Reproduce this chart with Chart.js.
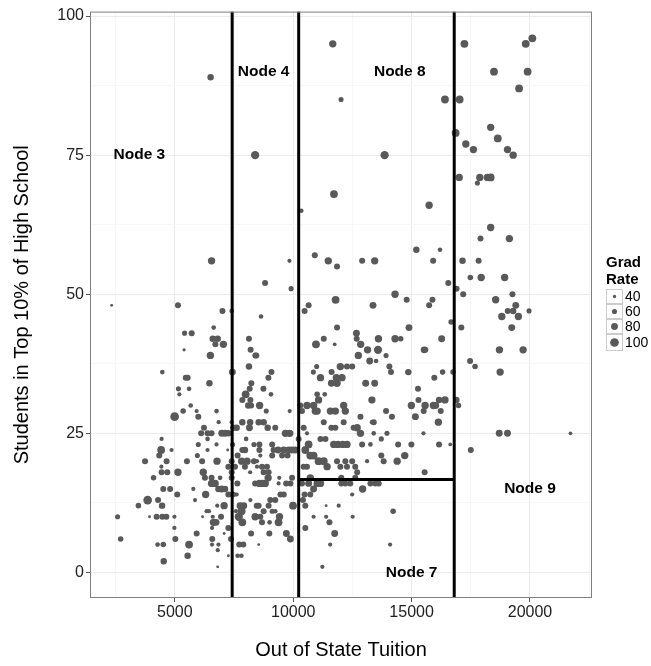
<!DOCTYPE html>
<html>
<head>
<meta charset="utf-8">
<script src="https://cdn.jsdelivr.net/npm/chart.js@4.4.0/dist/chart.umd.min.js"></script>
<style>
  body { margin: 0; background: #fff; }
</style>
</head>
<body>
<canvas id="treeChart" width="651" height="666"></canvas>
<script>
// Out-of-state tuition vs share of students from top 10% of their high school,
// one entry per college; gradRate sets the point size.
const tuition = [
  // upper band
  6510, 8390, 11670, 12020, 13860, 11720, 17230, 19820, 20100, 18480,
  19900, 19540, 16410, 17030, 16860, 17290, 17610, 18340, 18640, 19050,
  19290, 17010, 17780, 17880, 18200, 18340, 15740,
  // node 3/4, 30-56
  6550, 2330, 5130, 7010, 7400, 6640, 5410, 5710, 6600, 6810,
  6710, 7050, 8130, 5390, 6500, 8200, 8400, 8130, 4470, 7430,
  5460, 5540, 6460, 5150, 5600, 5190, 8230, 8160, 7990, 8190,
  // node 8, 30-65
  10340, 9840, 10910, 11480, 11850, 12910, 13440, 15200, 8810, 9910,
  11790, 10650, 10480, 13370, 14300, 14790, 8640, 11850, 12670, 12680,
  11290, 10960, 11750, 12850, 13140, 13600, 13580, 13920, 14300, 14540,
  14890, 8440, 12750, 13230, 13500, 15530, 9080, 8950, 8740, 9060,
  10990, 10850, 11150, 11620, 11990, 12270, 12490, 11820, 12060, 11610,
  11850, 13060, 13440, 14060, 14130, 14860, 11010, 11330, 13310, 15270,
  15290,
  // node 9, 31-62
  18340, 17910, 19130, 16200, 15910, 17150, 17830, 17480, 17940, 18930,
  16550, 16900, 17180, 15880, 15740, 18550, 19260, 19400, 19060, 19290,
  19960, 18810, 19510, 19230, 16670, 17100, 16270, 15580, 18710, 19710,
  17470, 17680, 18740, 16750, 16310, 15960, 16160, 16410, 16890,
  // node 9, below 31
  15570, 15920, 16020, 16980, 16230, 16130, 15500, 16160, 16630, 18700,
  19050, 21710, 17500, 15550,
  // node 3/4, below 31
  5670, 5350, 4990, 5920, 5990, 6760, 6850, 6230, 6110, 6380,
  6550, 6980, 7120, 7260, 7470, 7610, 7400, 7850, 8180, 8150,
  7850, 8100, 8220, 4440, 6380, 4420, 4340, 4860, 3740, 4650,
  4430, 4440, 4680, 5130, 4100, 4510, 4800, 5100, 3460, 3850,
  4290, 4460, 2580, 3930, 4230, 4470, 4640, 4980, 4980, 2710,
  4270, 4510, 5020, 5600, 5540, 4530, 6810, 5510, 5990, 6380,
  6760, 7230, 7440, 5950, 6150, 6780, 7260, 6200, 5780, 6270,
  6550, 6910, 6550, 6700, 6840, 6980, 7120, 7400, 7400, 7260,
  7440, 7610, 6300, 5850, 6790, 7080, 6340, 6440, 6170, 6600,
  6950, 6630, 6740, 6570, 5920, 7080, 7260, 6580, 7370, 6570,
  6840, 6810, 7260, 7810, 7650, 7700, 7820, 7850, 8390, 7720,
  7890, 8220, 7560, 7750, 7910, 7580, 8190, 8460, 8390, 7640,
  7960, 7820, 8050, 8340, 7650, 7960, 7850, 8470, 7540, 8010,
  8340, 8180, 7400,
  // around the 10230 split, below 31
  8580, 8860, 9850, 8540, 8750, 8920, 9240, 9670, 9850, 8570,
  8570, 9110, 9170, 9360, 9600, 9810, 9950, 10090, 8610, 9110,
  9530, 9760, 8470, 8680, 8890, 8960, 8750, 8940, 8820, 8700,
  8570, 9410, 9380, 9700, 9880, 9950, 9460, 9600, 9240, 9030,
  8960, 8540, 8750, 8610, 8680, 9000, 9240, 9110, 9380, 9420,
  8990, 8540, 9710, 9880, 9990, 10510, 10410, 10480, 10720, 10860,
  10650, 10370, 10510, 10860, 11390, 11390, 11530, 11750, 11560, 11920,
  12510, 12490, 12930, 14220, 14090, 11230, 10720, 11010, 11150, 12030,
  12030, 12200, 12410, 12620, 13260, 13470, 13610, 10580, 10860, 10930,
  11070, 11010, 10370, 10300, 11570, 11780, 12130, 12200, 12840, 13330,
  13400, 13920, 14170, 14990, 15160, 15510, 11290, 11610, 11780, 12130,
  12550, 12700, 12840, 13330, 13400, 13720, 13960, 11150, 11360, 11710,
  11890, 12090, 12270, 12910, 13260, 14430, 14990, 10650, 10510, 10720,
  10860, 11070, 11290, 11430, 10440, 10580, 11850, 12200, 12490, 12620,
  11990, 12270, 12700, 13120, 13720, 13820, 14390, 14710, 10580, 10230,
  10440
];

const top10 = [
  89, 75, 95, 85, 75, 68, 95, 95, 96, 90,
  90, 87, 85, 85, 79, 77, 76, 80, 78, 76,
  75, 71, 70, 71, 71, 71, 66,

  56, 48, 48, 47, 47, 44, 43, 43, 42, 42,
  41, 41, 42, 40, 39, 40, 39, 37, 36, 36,
  35, 35, 34, 33, 33, 32, 34, 33, 32, 31,

  65, 56, 57, 56, 55, 56, 56, 58, 52, 51,
  49, 48, 47, 48, 50, 49, 46, 44, 43, 42,
  42, 41, 41, 41, 40, 42, 40, 39, 42, 42,
  44, 39, 39, 38, 38, 40, 36, 35, 33, 32,
  37, 36, 35, 36, 37, 37, 37, 35, 35, 34,
  34, 34, 34, 37, 36, 36, 32, 32, 31, 33,
  31,

  62, 60, 60, 58, 56, 56, 56, 53, 53, 53,
  52, 51, 50, 49, 48, 49, 50, 48, 47, 47,
  47, 46, 46, 44, 45, 44, 42, 40, 40, 40,
  38, 37, 36, 36, 36, 35, 31, 31, 31,

  30, 30, 30, 30, 29, 27, 25, 23, 23, 25,
  25, 25, 22, 18,

  30, 29, 28, 29, 28, 29, 27, 26, 25, 25,
  25, 25, 25, 25, 26, 26, 27, 27, 27, 26,
  31, 30, 30, 24, 24, 22, 21, 22, 20, 20,
  19, 18, 18, 18, 17, 15, 15, 14, 12, 13,
  13, 12, 10, 10, 10, 10, 10, 10, 8, 6,
  5, 5, 6, 5, 3, 2, 1, 20, 23, 22,
  23, 22, 23, 21, 20, 20, 19, 18, 15, 17,
  17, 17, 16, 16, 15, 15, 15, 17, 18, 14,
  14, 14, 14, 13, 12, 12, 11, 11, 10, 10,
  10, 9, 9, 8, 7, 7, 8, 6, 6, 5,
  5, 4, 3, 3, 3, 10, 11, 9, 10, 5,
  5, 7, 14, 12, 12, 11, 13, 12, 16, 16,
  19, 20, 20, 20, 21, 22, 22, 19, 19, 24,
  23, 18, 20,

  30, 29, 29, 27, 27, 26, 26, 25, 25, 23,
  22, 23, 22, 22, 22, 22, 22, 22, 21, 21,
  21, 21, 20, 19, 19, 18, 18, 17, 16, 16,
  16, 17, 16, 16, 16, 17, 14, 14, 13, 13,
  12, 12, 11, 10, 9, 9, 11, 11, 9, 10,
  7, 5, 7, 6, 12, 12, 13, 14, 14, 15,
  16, 16, 8, 10, 12, 10, 9, 7, 5, 12,
  10, 14, 15, 11, 5, 1, 17, 16, 16, 17,
  16, 16, 16, 17, 16, 16, 16, 30, 30, 29,
  31, 29, 29, 30, 29, 29, 30, 29, 28, 31,
  27, 29, 28, 30, 28, 29, 27, 26, 26, 27,
  26, 26, 25, 27, 25, 24, 25, 24, 24, 23,
  23, 23, 23, 23, 23, 23, 23, 23, 22, 21,
  21, 20, 20, 19, 19, 19, 20, 20, 20, 19,
  19, 19, 18, 20, 21, 20, 20, 21, 25, 24,
  26
];

const gradRate = [
  75, 95, 85, 60, 95, 90, 90, 90, 90, 90,
  90, 90, 90, 90, 90, 85, 85, 85, 90, 85,
  85, 85, 60, 85, 85, 90, 85,

  85, 35, 70, 70, 55, 55, 60, 70, 75, 75,
  70, 85, 70, 40, 85, 70, 70, 75, 55, 80,
  70, 70, 75, 60, 55, 50, 70, 70, 90, 70,

  55, 50, 70, 85, 70, 70, 85, 75, 70, 60,
  90, 70, 70, 80, 85, 70, 55, 70, 80, 70,
  70, 90, 45, 85, 85, 85, 95, 60, 85, 65,
  80, 70, 85, 80, 55, 80, 70, 70, 70, 55,
  60, 60, 85, 70, 85, 70, 70, 85, 85, 80,
  85, 80, 80, 70, 70, 75, 65, 55, 75, 70,
  70,

  85, 70, 85, 55, 70, 75, 70, 65, 85, 85,
  70, 70, 70, 70, 70, 85, 70, 80, 70, 75,
  60, 85, 85, 80, 65, 70, 80, 70, 85, 85,
  70, 65, 85, 65, 65, 70, 75, 85, 75,

  85, 85, 80, 65, 70, 85, 50, 70, 45, 80,
  80, 45, 70, 70,

  55, 65, 100, 50, 70, 55, 50, 70, 70, 70,
  70, 80, 80, 75, 75, 75, 50, 75, 75, 80,
  70, 75, 70, 50, 55, 90, 70, 50, 70, 70,
  50, 70, 70, 85, 65, 70, 70, 70, 65, 100,
  70, 75, 60, 35, 70, 70, 70, 50, 50, 65,
  55, 65, 70, 90, 75, 75, 35, 70, 60, 50,
  50, 35, 60, 60, 70, 85, 70, 85, 50, 70,
  70, 55, 85, 85, 75, 80, 75, 70, 70, 70,
  70, 50, 85, 50, 50, 85, 50, 50, 35, 50,
  70, 85, 80, 50, 70, 35, 70, 70, 70, 50,
  50, 50, 35, 55, 55, 95, 90, 90, 85, 70,
  70, 70, 50, 80, 80, 50, 50, 70, 70, 70,
  70, 85, 85, 70, 70, 75, 70, 50, 70, 55,
  60, 50, 70,

  85, 60, 50, 75, 75, 75, 70, 85, 85, 70,
  70, 70, 70, 80, 80, 80, 80, 80, 50, 70,
  70, 70, 50, 70, 70, 70, 70, 85, 85, 85,
  85, 50, 50, 70, 70, 70, 70, 70, 70, 70,
  70, 70, 70, 70, 70, 55, 55, 60, 90, 85,
  70, 35, 80, 80, 90, 70, 70, 70, 70, 80,
  80, 70, 70, 50, 35, 50, 70, 80, 50, 50,
  50, 50, 85, 65, 50, 50, 85, 85, 85, 70,
  70, 70, 70, 70, 70, 70, 70, 85, 85, 85,
  85, 85, 70, 70, 85, 85, 85, 85, 70, 80,
  70, 70, 70, 85, 80, 70, 70, 70, 70, 70,
  70, 85, 85, 55, 55, 60, 60, 70, 70, 85,
  85, 85, 85, 70, 55, 70, 70, 90, 90, 90,
  90, 90, 90, 85, 70, 70, 70, 70, 70, 70,
  70, 70, 70, 50, 70, 70, 85, 85, 50, 70,
  70
];

const xTickLabels = [5000, 10000, 15000, 20000];
const yTickLabels = [0, 25, 50, 75, 100];
const legendRates = [40, 60, 80, 100];

// tree splits
const tuitionSplits = [7420, 10230, 16800];
const top10Split = 16.7;

const nodeNames = ['Node 3', 'Node 4', 'Node 8', 'Node 7', 'Node 9'];
const nodeTuition = [3500, 8750, 14500, 15000, 20000];
const nodeTop10 = [75, 90, 90, 0, 15];

const X_MIN = 1415, X_MAX = 22620, Y_MIN = -4.6, Y_MAX = 100.8;
const POINT_COLOR = '#595959';
const FONT = '"Liberation Sans", Arial, Helvetica, sans-serif';

const radiusFor = g => 1.2 + (g - 30) * 0.045;

const points = tuition.map((x, i) => ({ x: x, y: top10[i] }));

const cutLine = data => ({
  data: data,
  showLine: true,
  borderColor: '#000',
  borderWidth: 3,
  pointRadius: 0,
  order: 0
});

const datasets = [{
  data: points,
  pointRadius: c => radiusFor(gradRate[c.dataIndex]),
  pointBackgroundColor: POINT_COLOR,
  pointBorderWidth: 0,
  order: 1
}];
tuitionSplits.forEach(v => datasets.push(cutLine([{ x: v, y: Y_MIN }, { x: v, y: Y_MAX }])));
datasets.push(cutLine([{ x: tuitionSplits[1], y: top10Split }, { x: tuitionSplits[2], y: top10Split }]));

// panel border, node labels and the size legend
const panelDecor = {
  id: 'panelDecor',
  afterDatasetsDraw(chart) {
    const { ctx, chartArea: a, scales: { x, y } } = chart;
    ctx.save();
    ctx.strokeStyle = '#7f7f7f';
    ctx.lineWidth = 1;
    ctx.strokeRect(a.left + 0.5, a.top + 0.5, a.right - a.left - 1, a.bottom - a.top - 1);

    ctx.fillStyle = '#000';
    ctx.font = 'bold 15.5px ' + FONT;
    ctx.textAlign = 'center';
    ctx.textBaseline = 'middle';
    nodeNames.forEach((name, i) => {
      ctx.fillText(name, x.getPixelForValue(nodeTuition[i]), y.getPixelForValue(nodeTop10[i]));
    });
    ctx.restore();
  },
  afterDraw(chart) {
    const ctx = chart.ctx;
    const lx = chart.chartArea.right + 14;
    ctx.save();
    ctx.fillStyle = '#000';
    ctx.font = 'bold 15px ' + FONT;
    ctx.textAlign = 'left';
    ctx.textBaseline = 'alphabetic';
    ctx.fillText('Grad', lx, 267);
    ctx.fillText('Rate', lx, 284);

    const heights = [15, 15, 15, 17];
    let top = 289;
    legendRates.forEach((g, i) => {
      const h = heights[i];
      ctx.fillStyle = '#fff';
      ctx.fillRect(lx, top, 17, h);
      ctx.strokeStyle = '#cccccc';
      ctx.lineWidth = 1;
      ctx.strokeRect(lx + 0.5, top + 0.5, 16, h - 1);
      ctx.fillStyle = POINT_COLOR;
      ctx.beginPath();
      ctx.arc(lx + 8.5, top + h / 2, radiusFor(g), 0, Math.PI * 2);
      ctx.fill();
      ctx.fillStyle = '#000';
      ctx.font = '14px ' + FONT;
      ctx.textBaseline = 'middle';
      ctx.fillText(String(g), lx + 19, top + h / 2 + 0.5);
      top += h;
    });
    ctx.restore();
  }
};

const gridFor = (majorStep) => ({
  color: c => (c.tick && c.tick.value % majorStep === 0) ? '#ebebeb' : '#f7f7f7',
  tickColor: c => (c.tick && c.tick.value % majorStep === 0) ? '#555' : 'rgba(0,0,0,0)',
  tickLength: 4,
  lineWidth: 1
});

new Chart(document.getElementById('treeChart'), {
  type: 'scatter',
  data: { datasets: datasets },
  plugins: [panelDecor],
  options: {
    responsive: false,
    animation: false,
    devicePixelRatio: 1,
    layout: { padding: { left: 0, right: 59, top: 8, bottom: 0 } },
    plugins: { legend: { display: false }, tooltip: { enabled: false } },
    scales: {
      x: {
        type: 'linear',
        min: X_MIN,
        max: X_MAX,
        afterBuildTicks: s => {
          const t = [];
          for (let v = 2500; v <= 22500; v += 2500) t.push({ value: v });
          s.ticks = t;
        },
        afterFit: s => { s.height = 68; },
        grid: gridFor(5000),
        border: { display: false },
        ticks: {
          autoSkip: false,
          maxRotation: 0,
          padding: 1,
          color: '#222',
          font: { family: FONT, size: 16 },
          callback: v => xTickLabels.includes(v) ? String(v) : ''
        },
        title: {
          display: true,
          text: 'Out of State Tuition',
          color: '#000',
          font: { family: FONT, size: 20 },
          padding: { top: 0, bottom: 4 }
        }
      },
      y: {
        type: 'linear',
        min: Y_MIN,
        max: Y_MAX,
        afterBuildTicks: s => {
          const t = [];
          for (let v = 0; v <= 100; v += 12.5) t.push({ value: v });
          s.ticks = t;
        },
        afterFit: s => { s.width = 90; },
        grid: gridFor(25),
        border: { display: false },
        ticks: {
          autoSkip: false,
          padding: 2,
          color: '#222',
          font: { family: FONT, size: 16 },
          callback: v => yTickLabels.includes(v) ? String(v) : ''
        },
        title: {
          display: true,
          text: 'Students in Top 10% of High School',
          color: '#000',
          font: { family: FONT, size: 20 },
          padding: { top: 10, bottom: 0 }
        }
      }
    }
  }
});
</script>
</body>
</html>
